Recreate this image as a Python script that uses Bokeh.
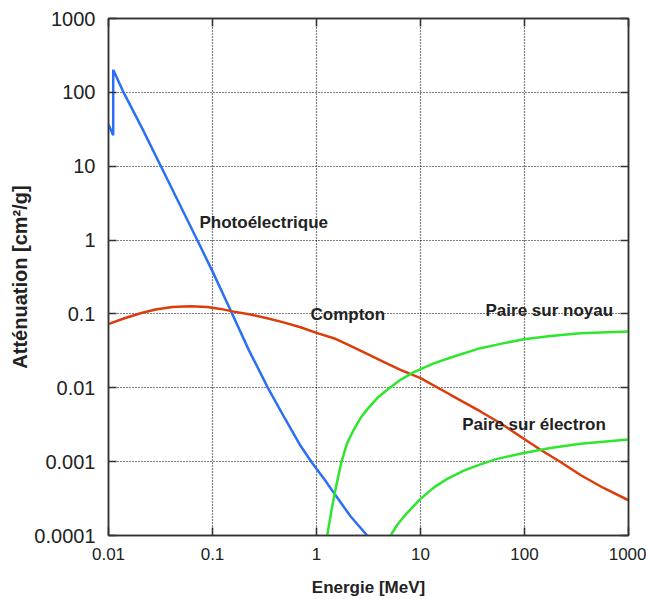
from bokeh.plotting import figure
from bokeh.models import (Range1d, LogAxis, FixedTicker, CustomJSTickFormatter, Label)
from bokeh.embed import file_html
from bokeh.resources import INLINE

# Mass attenuation contributions (cm^2/g) versus photon energy (MeV)
photo_E = [0.0100, 0.0111, 0.0111, 0.0140, 0.0212, 0.0336, 0.0713, 0.100, 0.155,
           0.223, 0.343, 0.500, 0.702, 0.909, 1.20, 1.467, 2.123, 3.07]
photo_mu = [36.6, 26.2, 203.0, 99.0, 32.0, 8.6, 1.0, 0.377, 0.1,
            0.0326, 0.0098, 0.00378, 0.00164, 0.00096, 0.000568, 0.000378, 0.000182, 0.0001]

compton_E = [0.0101, 0.01426, 0.0203, 0.0283, 0.0412, 0.0614, 0.0889, 0.1194, 0.1603,
             0.232, 0.3357, 0.482, 0.702, 1.0, 1.467, 2.123, 3.073, 4.41, 6.42, 10.0,
             19.43, 37.7, 58.8, 98.5, 142.5, 222.0, 345.0, 575.0, 1000.0]
compton_mu = [0.0733, 0.0875, 0.1022, 0.115, 0.1244, 0.127, 0.1244, 0.117, 0.1074,
              0.0985, 0.0875, 0.0768, 0.0661, 0.0554, 0.0469, 0.037, 0.0287, 0.0225,
              0.0175, 0.01355, 0.00804, 0.00478, 0.00331, 0.00204, 0.00145, 0.00099,
              0.00066, 0.00044, 0.0003]

nucleus_E = [1.267, 1.416, 1.557, 1.728, 1.973, 2.284, 2.649, 3.073, 3.835, 4.785,
             6.42, 8.62, 13.4, 20.9, 37.7, 58.8, 98.5, 177.8, 345.0, 1000.0]
nucleus_mu = [0.0001, 0.000249, 0.000489, 0.00096, 0.00179, 0.00271, 0.00389, 0.0051,
              0.00726, 0.0094, 0.0128, 0.0163, 0.0214, 0.0265, 0.0344, 0.0393, 0.0455,
              0.0504, 0.0548, 0.0578]

electron_E = [5.146, 6.01, 7.45, 10.0, 13.4, 18.06, 26.1, 37.7, 54.6, 98.5, 177.8,
              345.0, 1000.0]
electron_mu = [0.0001, 0.000141, 0.000203, 0.000313, 0.000445, 0.000585, 0.000755,
               0.00092, 0.00109, 0.00131, 0.00153, 0.00175, 0.00199]

x_ticks = [0.01, 0.1, 1, 10, 100, 1000]
y_ticks = [0.0001, 0.001, 0.01, 0.1, 1, 10, 100, 1000]

FONT = "Liberation Sans"
AXIS_COLOR = "#333333"

p = figure(width=646, height=599, output_backend="svg", toolbar_location=None,
           x_axis_type="log", y_axis_type="log",
           x_range=Range1d(0.01, 1000), y_range=Range1d(0.0001, 1000),
           min_border_left=108, min_border_right=18,
           min_border_top=18, min_border_bottom=62)
p.background_fill_color = "white"
p.border_fill_color = "white"
p.outline_line_color = AXIS_COLOR
p.outline_line_width = 1.5

num_fmt = CustomJSTickFormatter(code="return tick.toString();")

xa = p.xaxis[0]
xa.ticker = FixedTicker(ticks=x_ticks)
xa.formatter = num_fmt
xa.axis_label = "Energie [MeV]"
xa.major_label_text_font_size = "17px"
xa.major_label_standoff = 12

ya = p.yaxis[0]
ya.ticker = FixedTicker(ticks=y_ticks)
ya.formatter = num_fmt
ya.axis_label = "Atténuation [cm²/g]"
ya.major_label_text_font_size = "20px"
ya.major_label_standoff = 13

for ax in (xa, ya):
    ax.minor_tick_line_color = None
    ax.major_tick_in = 8
    ax.major_tick_out = 0
    ax.major_tick_line_color = AXIS_COLOR
    ax.major_tick_line_width = 1.5
    ax.axis_line_color = AXIS_COLOR
    ax.axis_line_width = 1.5
    ax.major_label_text_font = FONT
    ax.major_label_text_color = "#222222"
    ax.axis_label_text_font = FONT
    ax.axis_label_text_font_style = "bold"
    ax.axis_label_text_color = "#222222"

xa.axis_label_text_font_size = "17px"
xa.axis_label_standoff = 15
ya.axis_label_text_font_size = "20px"
ya.axis_label_standoff = 0

# mirrored tick marks on the top and right edges
blank = CustomJSTickFormatter(code="return '';")
for loc, ticks in (("above", x_ticks), ("right", y_ticks)):
    ax = LogAxis(ticker=FixedTicker(ticks=ticks), formatter=blank,
                 major_tick_in=8, major_tick_out=0, major_label_standoff=0,
                 minor_tick_line_color=None, major_tick_line_color=AXIS_COLOR,
                 major_tick_line_width=1.5, axis_line_color=AXIS_COLOR,
                 axis_line_width=1.5, major_label_text_font_size="1px")
    p.add_layout(ax, loc)

p.xgrid[0].ticker = FixedTicker(ticks=x_ticks)
p.ygrid[0].ticker = FixedTicker(ticks=y_ticks)
for g in (p.xgrid[0], p.ygrid[0]):
    g.grid_line_color = "black"
    g.grid_line_dash = "1 2"
    g.grid_line_width = 1.2
    g.grid_line_alpha = 1.0

LW = 2.5
p.line(photo_E, photo_mu, line_color="#2a6ff5", line_width=LW)
p.line(compton_E, compton_mu, line_color="#dd3c0a", line_width=LW)
p.line(nucleus_E, nucleus_mu, line_color="#2ee62e", line_width=LW)
p.line(electron_E, electron_mu, line_color="#2ee62e", line_width=LW)

labels = [("Photoélectrique", 0.075, 1.71),
          ("Compton", 0.876, 0.097),
          ("Paire sur noyau", 42.2, 0.111),
          ("Paire sur électron", 25.2, 0.00316)]
for txt, lx, ly in labels:
    p.add_layout(Label(x=lx, y=ly, text=txt, text_font=FONT, text_font_size="17px",
                       text_font_style="bold", text_color="#222222",
                       text_baseline="middle", text_align="left"))

open("out.html", "w").write(file_html(p, INLINE))
